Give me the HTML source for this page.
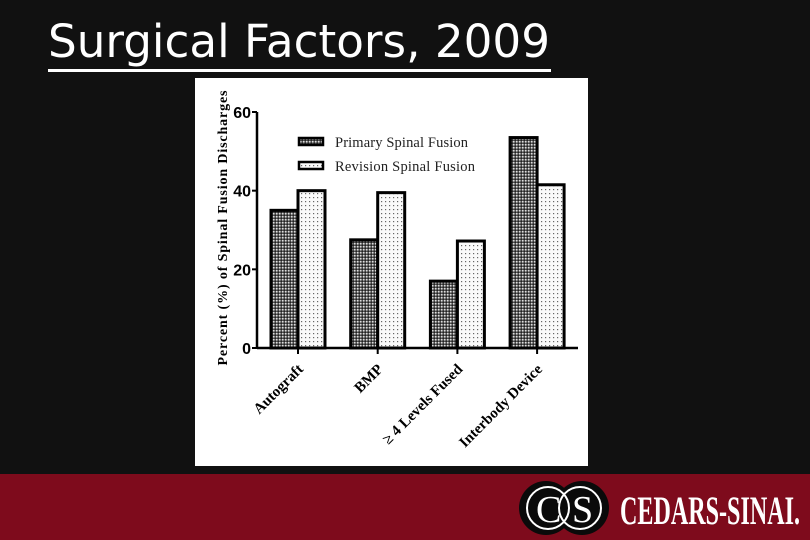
<!DOCTYPE html>
<html><head><meta charset="utf-8"><style>
html,body{margin:0;padding:0;background:#111;}
svg{display:block;}
</style></head><body>
<svg width="810" height="540" viewBox="0 0 810 540" xmlns="http://www.w3.org/2000/svg">
<defs>
<pattern id="hatch" width="3" height="3" patternUnits="userSpaceOnUse">
<rect width="3" height="3" fill="#555"/><rect width="1.5" height="1.5" fill="#ddd"/><rect x="1.5" y="1.5" width="1.5" height="1.5" fill="#222"/>
</pattern>
<pattern id="dots" width="4" height="4" patternUnits="userSpaceOnUse">
<rect width="4" height="4" fill="#fafafa"/><rect x="1" y="1" width="1.2" height="1.2" fill="#666"/>
</pattern>
</defs>
<rect width="810" height="540" fill="#111"/>
<text x="48" y="57" fill="#fff" font-family="DejaVu Sans, sans-serif" font-size="45" textLength="502" lengthAdjust="spacingAndGlyphs">Surgical Factors, 2009</text>
<rect x="48" y="69" width="503" height="3" fill="#fff"/>
<rect x="195" y="78" width="393" height="388" fill="#fff"/>
<g id="chart"></g>
<rect x="0" y="474" width="810" height="66" fill="#7e0b1c"/>
<g>
<circle cx="546" cy="508" r="27" fill="#0a0a0a"/><circle cx="582" cy="508" r="27" fill="#0a0a0a"/>
<circle cx="548" cy="508" r="21" fill="none" stroke="#fff" stroke-width="2"/><circle cx="580" cy="508" r="21" fill="none" stroke="#fff" stroke-width="2"/>
<text x="536" y="522" fill="#fff" font-family="Liberation Serif, serif" font-size="38">C</text>
<text x="572" y="522" fill="#fff" font-family="Liberation Serif, serif" font-size="38">S</text>
<text x="620" y="524" fill="#fff" font-family="Liberation Serif, serif" font-size="40" font-weight="bold" textLength="180" lengthAdjust="spacingAndGlyphs">CEDARS-SINAI.</text>
</g>
</svg>
<script>
const categories=["Autograft","BMP","\u2265 4 Levels Fused","Interbody Device"];
const primaryValues=[35,27.5,17,53.5];
const revisionValues=[40,39.5,27.2,41.5];
const yTicks=[0,20,40,60];
const NS="http://www.w3.org/2000/svg";
const g=document.getElementById('chart');
const x0=257,x1=578,y0=348,yTop=112,yMax=60;
const yScale=v=>y0-(v/yMax)*(y0-yTop);
const groupX=i=>271+i*79.7;
const bw=27;
function el(t,a,p){const e=document.createElementNS(NS,t);for(const k in a)e.setAttribute(k,a[k]);(p||g).appendChild(e);return e;}
categories.forEach((c,i)=>{
 const gx=groupX(i);
 const b1=el('rect',{x:gx,y:yScale(primaryValues[i]),width:bw,height:y0-yScale(primaryValues[i]),fill:'url(#hatch)',stroke:'#000','stroke-width':3});
 
 
 const b2=el('rect',{x:gx+bw,y:yScale(revisionValues[i]),width:bw,height:y0-yScale(revisionValues[i]),fill:'url(#dots)',stroke:'#000','stroke-width':3});
 
 
 const tx=gx+bw;
 const tk=el('line',{x1:tx,x2:tx,y1:y0,y2:y0+6,stroke:'#000','stroke-width':2});
 
 
 const t=el('text',{x:tx+6,y:y0+22,'text-anchor':'end','font-family':'Liberation Serif, serif','font-size':15,'font-weight':'bold',transform:`rotate(-45 ${tx+6} ${y0+22})`});
 t.textContent=c;
 
 
});
const ax=el('line',{x1:x0,x2:x1,y1:y0,y2:y0,stroke:'#000','stroke-width':2.5});


const ay=el('line',{x1:x0,x2:x0,y1:yTop,y2:y0,stroke:'#000','stroke-width':2.5});


yTicks.forEach(v=>{
 const l=el('line',{x1:x0-5,x2:x0,y1:yScale(v),y2:yScale(v),stroke:'#000','stroke-width':2});
 
 
 const t=el('text',{x:x0-6,y:yScale(v)+6,'text-anchor':'end','font-family':'Liberation Sans, sans-serif','font-size':16,'font-weight':'bold'});
 t.textContent=v;
 
 
});
const yt=el('text',{x:227,y:228,'text-anchor':'middle','font-family':'Liberation Serif, serif','font-size':14,'font-weight':'bold',textLength:275,lengthAdjust:'spacing',transform:'rotate(-90 227 228)'});
yt.textContent='Percent (%) of Spinal Fusion Discharges';


[["Primary  Spinal Fusion",'url(#hatch)',138],["Revision  Spinal Fusion",'url(#dots)',162]].forEach((d,i)=>{
 const r=el('rect',{x:299,y:d[2],width:24,height:7,fill:d[1],stroke:'#000','stroke-width':2.5});
 
 
 const t=el('text',{x:335,y:d[2]+9,'font-family':'Liberation Serif, serif','font-size':14.5,fill:'#222',textLength:i?140:133,lengthAdjust:'spacing'});
 t.textContent=d[0];
 
 
});
</script>
</body></html>
